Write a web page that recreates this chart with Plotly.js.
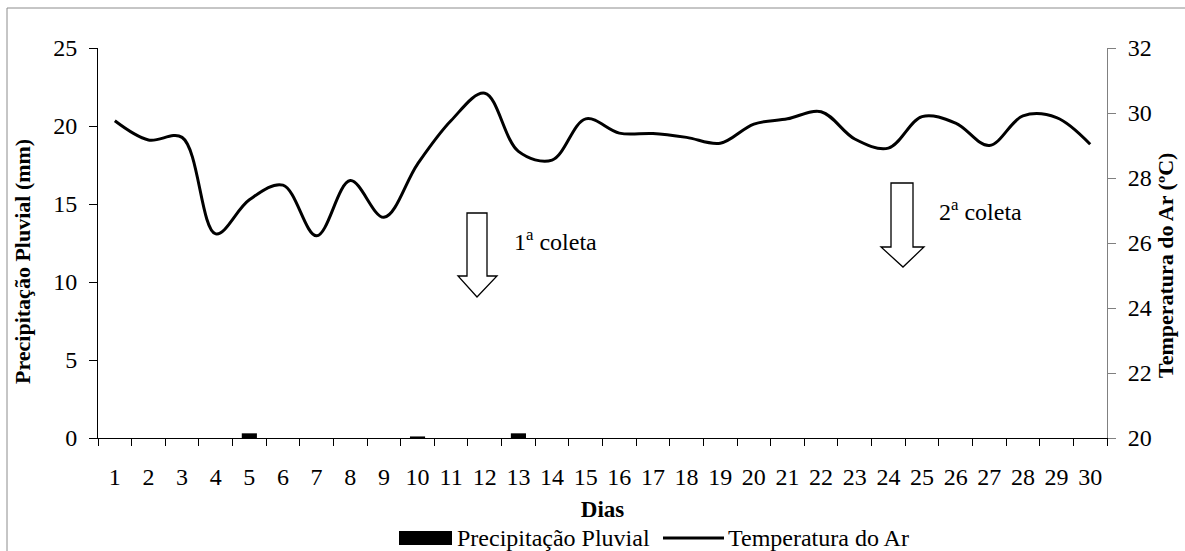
<!DOCTYPE html>
<html>
<head>
<meta charset="utf-8">
<script src="https://cdn.plot.ly/plotly-3.0.1.min.js"></script>
<style>html,body{margin:0;padding:0;background:#fff;}#chart{width:1185px;height:551px;}</style>
</head>
<body>
<div id="chart"></div>
<script>
// ---- data ----
const days = [1,2,3,4,5,6,7,8,9,10,11,12,13,14,15,16,17,18,19,20,21,22,23,24,25,26,27,28,29,30];
const dayLabels = days.map(String);
const precipitacao = [0,0,0,0,0.3,0,0,0,0,0.1,0,0,0.3,0,0,0,0,0,0,0,0,0,0,0,0,0,0,0,0,0];
const temperatura = [29.76,29.17,29.25,26.28,27.33,27.78,26.22,27.92,26.79,28.43,
                     29.77,30.61,28.82,28.55,29.82,29.38,29.37,29.25,29.07,29.66,
                     29.82,30.04,29.20,28.92,29.89,29.69,29.00,29.91,29.86,29.04];
const boundaries = [0.5,1.5,2.5,3.5,4.5,5.5,6.5,7.5,8.5,9.5,10.5,11.5,12.5,13.5,14.5,15.5,16.5,17.5,18.5,19.5,20.5,21.5,22.5,23.5,24.5,25.5,26.5,27.5,28.5,29.5,30.5];
const seriesNames = ['Precipitação Pluvial', 'Temperatura do Ar'];
const axisTitles = ['Dias', 'Precipitação Pluvial (mm)', 'Temperatura do Ar (ºC)'];
const coletaLabels = ["1<sup>a</sup> coleta", "2<sup>a</sup> coleta"];

// ---- layout helpers (pixel -> paper) ----
const W = 1185, H = 551, ML = 98, MR = 78, MT = 48, MB = 113;
const PW = W - ML - MR, PH = H - MT - MB;
const px = x => (x - ML) / PW;
const py = y => (H - MB - y) / PH;
function arrowPath(l, r, hl, hr, top, sb, tipx, tipy) {
  const pts = [[l,top],[r,top],[r,sb],[hr,sb],[tipx,tipy],[hl,sb],[l,sb]];
  return 'M' + pts.map(p => px(p[0]).toFixed(5) + ',' + py(p[1]).toFixed(5)).join(' L') + ' Z';
}

const FONT = 'Liberation Serif';
const fnt = (s, c) => ({family: FONT, size: s, color: c || '#000'});

const traces = [
  {
    type: 'bar', x: days, y: precipitacao, name: seriesNames[0],
    marker: {color: '#000000', line: {width: 0}}, width: 0.45, yaxis: 'y', showlegend: false
  },
  {
    type: 'scatter', mode: 'lines', x: days, y: temperatura, name: seriesNames[1],
    line: {color: '#000000', width: 3, shape: 'spline', smoothing: 1}, yaxis: 'y2', showlegend: false
  }
];

const layout = {
  width: W, height: H,
  margin: {l: ML, r: MR, t: MT, b: MB, pad: 0, autoexpand: false},
  paper_bgcolor: '#ffffff', plot_bgcolor: '#ffffff',
  font: fnt(24),
  showlegend: false,
  xaxis: {
    range: [0.5, 30.5], tickmode: 'array', tickvals: days, ticktext: dayLabels,
    ticks: '', showgrid: false, zeroline: false, automargin: false,
    showline: true, linecolor: '#000', linewidth: 1,
    tickfont: fnt(24),
    ticklabelstandoff: 17,
    minor: {tickmode: 'array', tickvals: boundaries, ticks: 'outside', ticklen: 7, tickwidth: 1, tickcolor: '#000', showgrid: false},
    title: {text: '<b>' + axisTitles[0] + '</b>', font: fnt(23), standoff: 12},
    fixedrange: true
  },
  yaxis: {
    range: [0, 25], tickmode: 'linear', tick0: 0, dtick: 5, automargin: false,
    ticks: 'outside', ticklen: 8, tickwidth: 1, tickcolor: '#000',
    showline: true, linecolor: '#000', linewidth: 1,
    showgrid: false, zeroline: false,
    tickfont: fnt(24),
    ticklabelstandoff: 7,
    fixedrange: true
  },
  yaxis2: {
    overlaying: 'y', side: 'right', range: [20, 32], tickmode: 'linear', tick0: 20, dtick: 2, automargin: false,
    ticks: 'outside', ticklen: 8, tickwidth: 1, tickcolor: '#808080',
    showline: true, linecolor: '#808080', linewidth: 1,
    showgrid: false, zeroline: false,
    tickfont: fnt(24),
    ticklabelstandoff: 7,
    fixedrange: true
  },
  shapes: [
    // outer chart border
    {type: 'rect', xref: 'paper', yref: 'paper', x0: px(7), x1: px(1195), y0: py(560), y1: py(8),
     line: {color: '#8c8c8c', width: 1}, fillcolor: 'rgba(0,0,0,0)', layer: 'below'},
    // block arrows
    {type: 'path', xref: 'paper', yref: 'paper', path: arrowPath(467, 487, 458, 497, 213, 276, 477, 297),
     line: {color: '#000', width: 1.3}, fillcolor: '#ffffff'},
    {type: 'path', xref: 'paper', yref: 'paper', path: arrowPath(891, 913, 881, 924, 183, 247, 903, 267),
     line: {color: '#000', width: 1.3}, fillcolor: '#ffffff'},
    // legend symbols
    {type: 'rect', xref: 'paper', yref: 'paper', x0: px(399), x1: px(452), y0: py(545), y1: py(531),
     line: {width: 0}, fillcolor: '#000'},
    {type: 'line', xref: 'paper', yref: 'paper', x0: px(663), x1: px(724), y0: py(538), y1: py(538),
     line: {color: '#000', width: 3}}
  ],
  annotations: [
    // y axis titles
    {xref: 'paper', yref: 'paper', x: px(22), y: py(262), text: '<b>' + axisTitles[1] + '</b>', showarrow: false,
     textangle: -90, xanchor: 'center', yanchor: 'middle', font: fnt(22)},
    {xref: 'paper', yref: 'paper', x: px(1165), y: py(266), text: '<b>' + axisTitles[2] + '</b>', showarrow: false,
     textangle: -90, xanchor: 'center', yanchor: 'middle', font: fnt(22)},
    // coleta labels
    {xref: 'paper', yref: 'paper', x: px(555), y: py(240), text: coletaLabels[0], showarrow: false,
     xanchor: 'center', yanchor: 'middle', font: fnt(24)},
    {xref: 'paper', yref: 'paper', x: px(980), y: py(210), text: coletaLabels[1], showarrow: false,
     xanchor: 'center', yanchor: 'middle', font: fnt(24)},
    // legend texts
    {xref: 'paper', yref: 'paper', x: px(455), y: py(538), text: seriesNames[0], showarrow: false,
     xanchor: 'left', yanchor: 'middle', font: fnt(24)},
    {xref: 'paper', yref: 'paper', x: px(726), y: py(538), text: seriesNames[1], showarrow: false,
     xanchor: 'left', yanchor: 'middle', font: fnt(24)}
  ]
};

Plotly.newPlot('chart', traces, layout, {displayModeBar: false, staticPlot: true});
</script>
</body>
</html>
